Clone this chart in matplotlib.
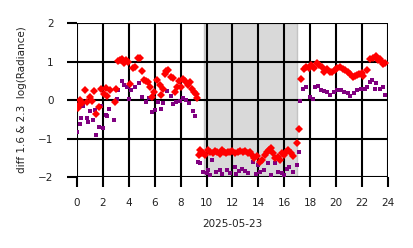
import matplotlib.pyplot as plt

# red diamonds: diff 1.6
t_red = [0.05, 0.13, 0.23, 0.4, 0.6, 0.8, 1.0, 1.15, 1.33, 1.5, 1.7, 1.85, 2.05, 2.2, 2.3,
         2.55, 2.9, 3.0, 3.2, 3.35, 3.45, 3.6, 3.8, 3.95, 4.1, 4.3, 4.5, 4.73, 4.9, 5.04,
         5.2, 5.35, 5.5, 5.6, 5.8, 5.95, 6.15, 6.4, 6.5, 6.65, 6.76, 6.9, 7.0, 7.23, 7.4,
         7.55, 7.7, 7.9, 8.05, 8.2, 8.3, 8.55, 8.7, 8.9, 9.05, 9.18, 9.3,
         9.4, 9.5, 9.6, 9.75, 9.9, 10.1, 10.3, 10.5, 10.65, 10.8, 11.0, 11.16, 11.35, 11.5,
         11.65, 11.8, 12.0, 12.2, 12.4, 12.6, 12.8, 13.0, 13.2, 13.35, 13.5, 13.7, 13.9,
         14.1, 14.3, 14.5, 14.65, 14.8, 15.0, 15.15, 15.3, 15.5, 15.65, 15.8, 16.0, 16.15,
         16.3, 16.5, 16.7, 16.95, 17.1, 17.3, 17.5, 17.7, 17.9, 18.1, 18.3, 18.5, 18.7,
         18.9, 19.1, 19.3, 19.5, 19.7, 19.9, 20.1, 20.3, 20.5, 20.7, 20.9, 21.1, 21.3,
         21.45, 21.6, 21.8, 22.0, 22.1, 22.35, 22.6, 22.85, 23.07, 23.25, 23.4, 23.55,
         23.64, 23.8]
v_red = [-0.2, -0.13, 0.0, -0.08, 0.26, -0.05, 0.08, -0.02, 0.24, -0.35, -0.19, 0.3, 0.15,
         0.32, 0.1, 0.26, -0.04, 0.28, 1.02, 1.05, 1.06, 0.97, 1.04, 1.0, 0.43, 0.82, 0.87,
         1.08, 1.1, 0.76, 0.52, 0.5, 0.48, 0.35, 0.09, 0.22, 0.52, 0.39, 0.13, 0.3, 0.68,
         0.75, 0.78, 0.6, 0.57, 0.22, 0.35, 0.5, 0.35, 0.54, 0.49, 0.38, 0.47, 0.3, 0.22,
         0.17, 0.05,
         -1.43, -1.3, -1.38, -1.38, -1.42, -1.3, -1.34, -1.38, -1.33, -1.35, -1.4, -1.3,
         -1.35, -1.38, -1.34, -1.36, -1.33, -1.38, -1.35, -1.32, -1.35, -1.33, -1.38, -1.36,
         -1.43, -1.51, -1.45, -1.6, -1.55, -1.42, -1.35, -1.3, -1.25, -1.38, -1.51, -1.47,
         -1.55, -1.38, -1.43, -1.35, -1.3, -1.38, -1.45, -1.11, -0.76, 0.54, 0.8, 0.87, 0.84,
         0.9, 0.82, 0.95, 0.9, 0.87, 0.74, 0.8, 0.74, 0.72, 0.78, 0.82, 0.87, 0.8, 0.78,
         0.74, 0.68, 0.59, 0.62, 0.65, 0.69, 0.7, 0.62, 0.78, 1.06, 1.08, 1.14, 1.05, 1.06,
         1.0, 0.94, 0.96]

# purple squares: diff 2.3
t_pur = [0.03, 0.2, 0.3, 0.5, 0.8, 0.87, 1.0, 1.2, 1.4, 1.47, 1.7, 1.85, 2.0, 2.2, 2.35,
         2.5, 2.85, 3.06, 3.2, 3.45, 3.63, 3.83, 4.04, 4.16, 4.45, 4.8, 5.0, 5.3, 5.55,
         5.76, 6.0, 6.25, 6.45, 6.6, 6.92, 7.25, 7.43, 7.64, 7.95, 8.15, 8.4, 8.65, 8.93,
         9.1,
         9.36, 9.5, 9.7, 10.0, 10.1, 10.26, 10.4, 10.7, 11.0, 11.2, 11.55, 11.8, 12.2,
         12.3, 12.5, 12.7, 12.96, 13.2, 13.6, 13.8, 14.0, 14.1, 14.4, 14.76, 15.0, 15.3,
         15.5, 15.8, 16.0, 16.2, 16.4, 16.7, 16.95, 17.1,
         17.2, 17.46, 17.7, 18.0, 18.2, 18.4, 18.6, 18.8, 19.1, 19.3, 19.5, 19.8, 20.1,
         20.4, 20.6, 20.9, 21.1, 21.4, 21.6, 21.9, 22.2, 22.4, 22.6, 22.74, 23.0, 23.1,
         23.4, 23.6, 23.8]
v_pur = [-0.82, -0.62, -0.46, -0.16, -0.46, -0.56, -0.29, -0.52, -0.26, -0.91, -0.69,
         -0.15, -0.72, -0.39, -0.42, -0.22, -0.52, 0.02, 0.27, 0.49, 0.39, 0.33, 0.03, 0.27,
         0.34, 0.45, 0.08, -0.04, 0.05, -0.3, -0.27, -0.04, -0.24, -0.07, 0.23, 0.1, -0.1,
         -0.04, -0.02, 0.05, 0.0, -0.07, -0.29, -0.42,
         -1.6, -1.64, -1.86, -1.9, -1.82, -1.95, -1.56, -1.86, -1.82, -1.93, -1.82, -1.9,
         -1.75, -1.93, -1.85, -1.8, -1.84, -1.9, -1.6, -1.93, -1.69, -1.86, -1.82, -1.64,
         -1.95, -1.64, -1.86, -1.9, -1.95, -1.8, -1.73, -1.86, -1.69, -1.34,
         -0.03, 0.3, 0.33, 0.09, 0.02, 0.33, 0.36, 0.27, 0.23, 0.2, 0.14, 0.2, 0.27, 0.26,
         0.2, 0.18, 0.1, 0.18, 0.27, 0.28, 0.28, 0.33, 0.48, 0.52, 0.28, 0.45, 0.3, 0.33,
         0.13]

# night span (hours)
night = [9.8, 17.0]

fig = plt.figure(figsize=(4.14, 2.48), dpi=100)
ax = fig.add_axes([0.186, 0.286, 0.751, 0.621])

ax.axvspan(night[0], night[1], facecolor='#d9d9d9', edgecolor='#c4c4c4', lw=1, zorder=0)
ax.plot(t_pur, v_pur, 's', color='purple', markersize=2.5, mew=0, zorder=3)
ax.plot(t_red, v_red, 'D', color='red', markersize=3.6, mew=0, zorder=4)

ax.set_xlim(0, 24)
ax.set_ylim(-2, 2)
ax.set_xticks(range(0, 25, 2))
ax.set_yticks([-2, -1, 0, 1, 2])
ax.grid(True, color='black', linewidth=1.5, zorder=1)
for s in ax.spines.values():
    s.set_visible(False)
ax.tick_params(length=7, width=1.5, color='black', labelsize=7.5, pad=8, labelcolor='#222222')
ax.tick_params(axis='y', pad=10)

ax.set_xlabel('2025-05-23', fontsize=7.5, color='#222222', labelpad=8)
ax.set_ylabel('diff 1.6 & 2.3  log(Radiance)', fontsize=7.5, color='#222222', labelpad=8)

fig.savefig('out.png', dpi=100)
